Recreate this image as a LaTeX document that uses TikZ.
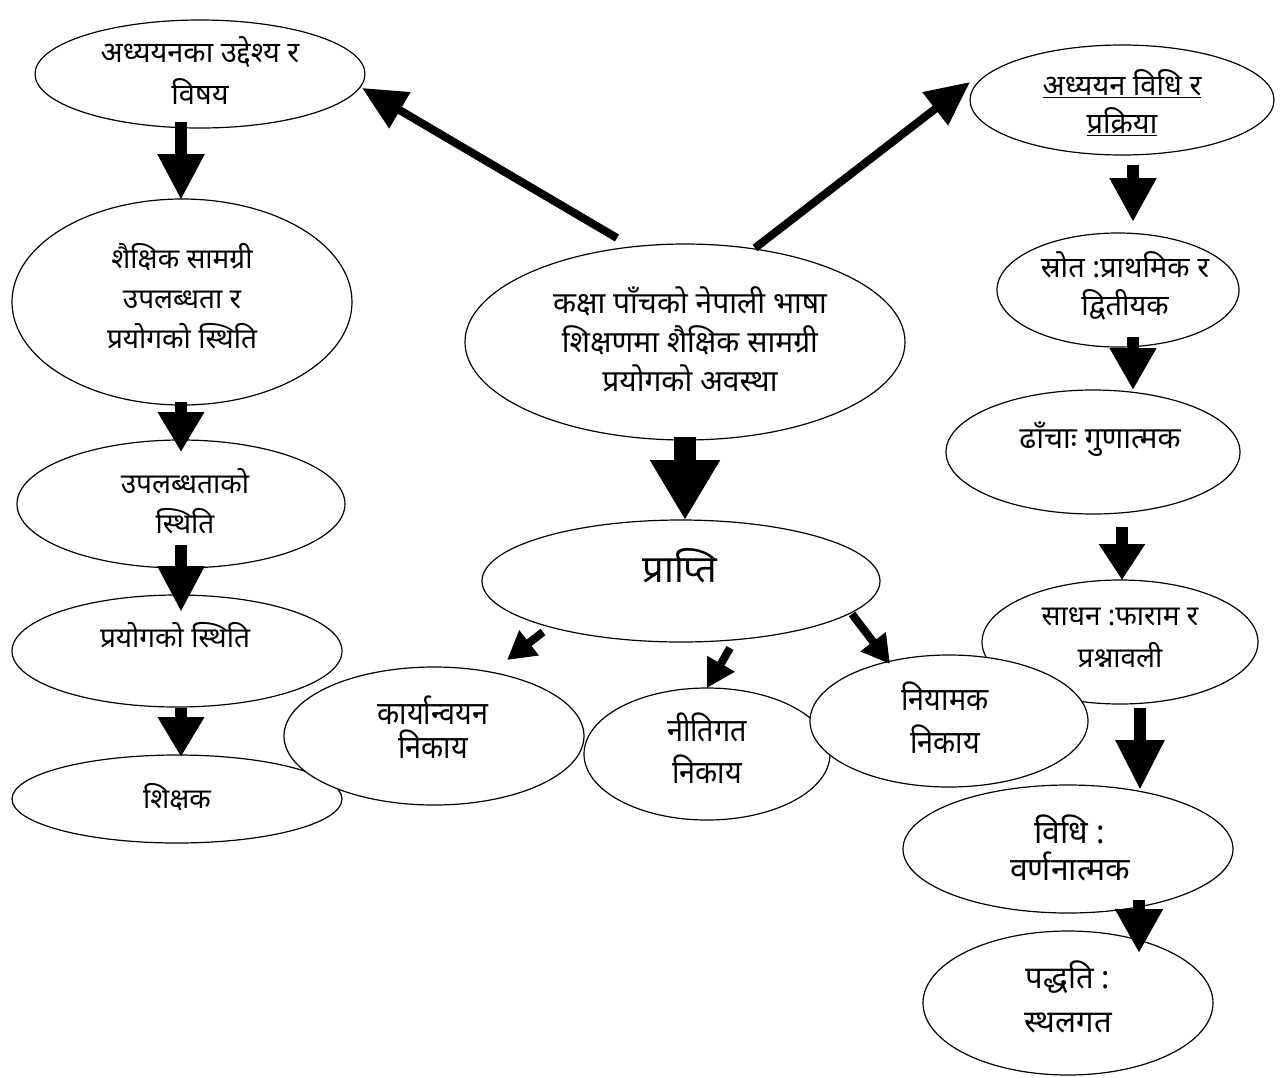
\documentclass[tikz,border=0pt]{standalone}
\usepackage{fontspec}
\newfontfamily\dev[Script=Devanagari]{Noto Sans}
\newfontfamily\devc[Script=Devanagari,FakeStretch=0.9]{Noto Sans}
\usetikzlibrary{arrows.meta,shapes.geometric}
\newcommand{\fs}[2]{\fontsize{#1}{#2}\selectfont}
\begin{document}
\begin{tikzpicture}[x=1pt,y=-1pt,
  ell/.style={draw=black,fill=white,line width=1.2pt,ellipse,inner sep=0pt},
  txt/.style={align=center,inner sep=0pt,anchor=base,font=\dev\fs{28}{40}},
  txtc/.style={align=center,inner sep=0pt,anchor=base,font=\devc\fs{32}{36}},
  varrow/.style={line width=12pt,-{Triangle[length=46pt,width=44pt]}},
  darrow/.style={line width=8pt,-{Triangle[length=44pt,width=40pt]}},
  sarrow/.style={line width=8pt,-{Triangle[length=28pt,width=30pt]}},
  barrow/.style={line width=22pt,-{Triangle[length=60pt,width=66pt]}}]
\useasboundingbox (0,0) rectangle (1283,1077);
% ellipses
\node[ell,minimum width=330pt,minimum height=108pt] (A) at (200,74) {};
\node[ell,minimum width=304pt,minimum height=110pt] (B) at (1122,100) {};
\node[ell,minimum width=340pt,minimum height=206pt] (C) at (182,302) {};
\node[ell,minimum width=440pt,minimum height=196pt] (D) at (685,342) {};
\node[ell,minimum width=242pt,minimum height=114pt] (E) at (1118,290) {};
\node[ell,minimum width=294pt,minimum height=124pt] (F) at (1093,452) {};
\node[ell,minimum width=328pt,minimum height=128pt] (G) at (181,504) {};
\node[ell,minimum width=398pt,minimum height=122pt] (H) at (681,581) {};
\node[ell,minimum width=330pt,minimum height=112pt] (I) at (177,651) {};
\node[ell,minimum width=276pt,minimum height=124pt] (J) at (1120,642) {};
\node[ell,minimum width=330pt,minimum height=88pt] (N) at (177,799) {};
\node[ell,minimum width=300pt,minimum height=138pt] (K) at (434,736) {};
\node[ell,minimum width=246pt,minimum height=132pt] (L) at (707,754) {};
\node[ell,minimum width=278pt,minimum height=132pt] (M) at (949,721) {};
\node[ell,minimum width=330pt,minimum height=128pt] (O) at (1068,849) {};
\node[ell,minimum width=290pt,minimum height=144pt] (P) at (1068,1003) {};
% texts (anchor = baseline of the last line)
\node[txt,font=\dev\fs{29}{42}] (At) at (200,104) {अध्ययनका उद्देश्य र\\विषय};
\node[txt,font=\dev\fs{29}{38}] (Bt) at (1122,133) {\underline{अध्ययन विधि र}\\\underline{प्रक्रिया}};
\node[txt] (Ct) at (182,348) {शैक्षिक सामग्री\\उपलब्धता र\\प्रयोगको स्थिति};
\node[txt,font=\dev\fs{30}{39}] (Dt) at (690,391) {कक्षा पाँचको नेपाली भाषा\\शिक्षणमा शैक्षिक सामग्री\\प्रयोगको अवस्था};
\node[txt,font=\dev\fs{29}{38}] (Et) at (1125,315) {स्रोत :प्राथमिक र\\द्वितीयक};
\node[txt,font=\dev\fs{30}{40}] (Ft) at (1100,448) {ढाँचाः गुणात्मक};
\node[txt] (Gt) at (185,533) {उपलब्धताको\\स्थिति};
\node[txt,font=\dev\fs{38}{40}] (Ht) at (680,582) {प्राप्ति};
\node[txt] (It) at (175,647) {प्रयोगको स्थिति};
\node[txt,font=\dev\fs{28}{42}] (Jt) at (1120,667) {साधन :फाराम र\\प्रश्नावली};
\node[txt] (Nt) at (177,808) {शिक्षक};
\node[txtc,font=\devc\fs{32}{34}] (Kt) at (433,758) {कार्यान्वयन\\निकाय};
\node[txtc,font=\devc\fs{32}{42}] (Lt) at (707,783) {नीतिगत\\निकाय};
\node[txtc,font=\devc\fs{32}{43}] (Mt) at (945,753) {नियामक\\निकाय};
\node[txt,font=\dev\fs{32}{37}] (Ot) at (1070,880) {विधि :\\वर्णनात्मक};
\node[txt,font=\dev\fs{31}{44}] (Pt) at (1068,1032) {पद्धति :\\स्थलगत};
% arrow end points
\coordinate (ac1) at (181,122); \coordinate (ac2) at (181,200);
\coordinate (cg1) at (181,402); \coordinate (cg2) at (181,452);
\coordinate (gi1) at (181,545); \coordinate (gi2) at (181,612);
\coordinate (in1) at (181,708); \coordinate (in2) at (181,757);
\coordinate (be1) at (1133,165); \coordinate (be2) at (1133,222);
\coordinate (ef1) at (1133,337); \coordinate (ef2) at (1133,390);
\coordinate (fj1) at (1122,527); \coordinate (fj2) at (1122,580);
\coordinate (jo1) at (1140,708); \coordinate (jo2) at (1140,790);
\coordinate (op1) at (1139,900); \coordinate (op2) at (1139,953);
\coordinate (dh1) at (685,437); \coordinate (dh2) at (685,520);
\coordinate (da1) at (617,238); \coordinate (da2) at (362,88);
\coordinate (db1) at (755,248); \coordinate (db2) at (970,82);
\coordinate (hk1) at (543,632); \coordinate (hk2) at (507,660);
\coordinate (hl1) at (730,648); \coordinate (hl2) at (707,688);
\coordinate (hm1) at (852,614); \coordinate (hm2) at (890,664);
% arrows
\draw[varrow] (ac1) -- (ac2);
\draw[varrow,-{Triangle[length=40pt,width=44pt]}] (cg1) -- (cg2);
\draw[varrow] (gi1) -- (gi2);
\draw[varrow,-{Triangle[length=40pt,width=44pt]}] (in1) -- (in2);
\draw[varrow,-{Triangle[length=44pt,width=44pt]}] (be1) -- (be2);
\draw[varrow,-{Triangle[length=42pt,width=44pt]}] (ef1) -- (ef2);
\draw[varrow,-{Triangle[length=36pt,width=44pt]}] (fj1) -- (fj2);
\draw[varrow,-{Triangle[length=50pt,width=46pt]}] (jo1) -- (jo2);
\draw[varrow,-{Triangle[length=44pt,width=45pt]}] (op1) -- (op2);
\draw[barrow] (dh1) -- (dh2);
\draw[darrow] (da1) -- (da2);
\draw[darrow] (db1) -- (db2);
\draw[sarrow] (hk1) -- (hk2);
\draw[sarrow] (hl1) -- (hl2);
\draw[sarrow] (hm1) -- (hm2);
\end{tikzpicture}
\end{document}
